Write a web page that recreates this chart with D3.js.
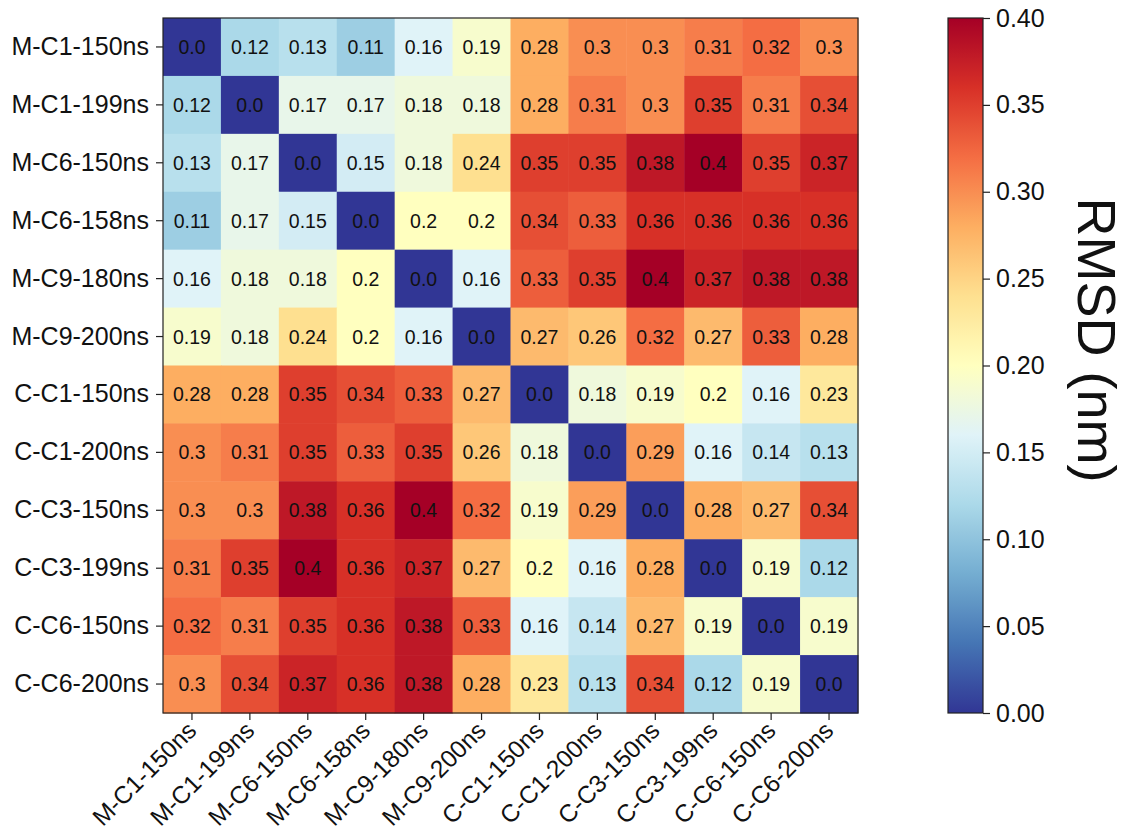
<!DOCTYPE html>
<html>
<head>
<meta charset="utf-8">
<script src="https://cdn.jsdelivr.net/npm/d3@7"></script>
<style>
  html, body { margin: 0; padding: 0; background: #fff; }
  svg text { font-family: "Liberation Sans", Arial, sans-serif; fill: #111; }
</style>
</head>
<body>
<svg id="chart" width="1129" height="832"></svg>
<script>
// Trajectory names (rows and columns of the pairwise RMSD matrix)
const trajectories = [
  "M-C1-150ns", "M-C1-199ns", "M-C6-150ns", "M-C6-158ns", "M-C9-180ns", "M-C9-200ns",
  "C-C1-150ns", "C-C1-200ns", "C-C3-150ns", "C-C3-199ns", "C-C6-150ns", "C-C6-200ns"
];

// Pairwise RMSD (nm), one row per trajectory
const rmsdRow01 = [0.0, 0.12, 0.13, 0.11, 0.16, 0.19, 0.28, 0.3, 0.3, 0.31, 0.32, 0.3];
const rmsdRow02 = [0.12, 0.0, 0.17, 0.17, 0.18, 0.18, 0.28, 0.31, 0.3, 0.35, 0.31, 0.34];
const rmsdRow03 = [0.13, 0.17, 0.0, 0.15, 0.18, 0.24, 0.35, 0.35, 0.38, 0.4, 0.35, 0.37];
const rmsdRow04 = [0.11, 0.17, 0.15, 0.0, 0.2, 0.2, 0.34, 0.33, 0.36, 0.36, 0.36, 0.36];
const rmsdRow05 = [0.16, 0.18, 0.18, 0.2, 0.0, 0.16, 0.33, 0.35, 0.4, 0.37, 0.38, 0.38];
const rmsdRow06 = [0.19, 0.18, 0.24, 0.2, 0.16, 0.0, 0.27, 0.26, 0.32, 0.27, 0.33, 0.28];
const rmsdRow07 = [0.28, 0.28, 0.35, 0.34, 0.33, 0.27, 0.0, 0.18, 0.19, 0.2, 0.16, 0.23];
const rmsdRow08 = [0.3, 0.31, 0.35, 0.33, 0.35, 0.26, 0.18, 0.0, 0.29, 0.16, 0.14, 0.13];
const rmsdRow09 = [0.3, 0.3, 0.38, 0.36, 0.4, 0.32, 0.19, 0.29, 0.0, 0.28, 0.27, 0.34];
const rmsdRow10 = [0.31, 0.35, 0.4, 0.36, 0.37, 0.27, 0.2, 0.16, 0.28, 0.0, 0.19, 0.12];
const rmsdRow11 = [0.32, 0.31, 0.35, 0.36, 0.38, 0.33, 0.16, 0.14, 0.27, 0.19, 0.0, 0.19];
const rmsdRow12 = [0.3, 0.34, 0.37, 0.36, 0.38, 0.28, 0.23, 0.13, 0.34, 0.12, 0.19, 0.0];

const rmsdRows = [rmsdRow01, rmsdRow02, rmsdRow03, rmsdRow04, rmsdRow05, rmsdRow06,
                  rmsdRow07, rmsdRow08, rmsdRow09, rmsdRow10, rmsdRow11, rmsdRow12];

// Colour bar range and ticks
const colorDomain = [0, 0.4];
const colorTicks = [0.0, 0.05, 0.10, 0.15, 0.20, 0.25, 0.30, 0.35, 0.40];
const colorLabel = "RMSD (nm)";

// ---------------------------------------------------------------------------
const svg = d3.select("#chart");

const heat = { left: 163, top: 18, size: 695 };
const bar = { left: 948, top: 18, width: 35, height: 695 };

// Reversed RdYlBu, linear between the 11 ColorBrewer stops
const rdylbu = d3.schemeRdYlBu[11].slice().reverse();
const stopScale = d3.scaleLinear()
  .domain(d3.range(11).map(i => i / 10))
  .range(rdylbu)
  .interpolate(d3.interpolateRgb);
const color = v => stopScale((v - colorDomain[0]) / (colorDomain[1] - colorDomain[0]));

const x = d3.scaleBand().domain(trajectories).range([heat.left, heat.left + heat.size]);
const y = d3.scaleBand().domain(trajectories).range([heat.top, heat.top + heat.size]);

const cells = [];
rmsdRows.forEach((row, i) => row.forEach((v, j) => cells.push({ r: trajectories[i], c: trajectories[j], v })));

const fmt = v => (Number.isInteger(v) ? v.toFixed(1) : String(v));

const g = svg.append("g");
g.selectAll("rect.cell").data(cells).join("rect")
  .attr("class", "cell")
  .attr("x", d => x(d.c))
  .attr("y", d => y(d.r))
  .attr("width", x.bandwidth() + 0.5)
  .attr("height", y.bandwidth() + 0.5)
  .attr("fill", d => color(d.v));

g.selectAll("text.val").data(cells).join("text")
  .attr("class", "val")
  .attr("x", d => x(d.c) + x.bandwidth() / 2)
  .attr("y", d => y(d.r) + y.bandwidth() / 2)
  .attr("text-anchor", "middle")
  .attr("dominant-baseline", "central")
  .attr("font-size", 19.5)
  .text(d => fmt(d.v));

svg.append("rect")
  .attr("x", heat.left).attr("y", heat.top)
  .attr("width", heat.size).attr("height", heat.size)
  .attr("fill", "none").attr("stroke", "#222").attr("stroke-width", 1.2);

// Axes
const xAxis = svg.append("g")
  .attr("transform", `translate(0,${heat.top + heat.size})`)
  .call(d3.axisBottom(x).tickSize(7).tickPadding(4));
xAxis.select(".domain").remove();
xAxis.selectAll(".tick line").attr("stroke", "#222").attr("stroke-width", 1.2);
xAxis.selectAll(".tick text")
  .attr("font-size", 24.5)
  .attr("fill", "#111")
  .attr("text-anchor", "end")
  .attr("x", 0)
  .attr("y", 0)
  .attr("dy", null)
  .attr("transform", "translate(6,19) rotate(-45)");

const yAxis = svg.append("g")
  .attr("transform", `translate(${heat.left},0)`)
  .call(d3.axisLeft(y).tickSize(7).tickPadding(7));
yAxis.select(".domain").remove();
yAxis.selectAll(".tick line").attr("stroke", "#222").attr("stroke-width", 1.2);
yAxis.selectAll(".tick text").attr("font-size", 25).attr("fill", "#111");

// Colour bar
const defs = svg.append("defs");
const grad = defs.append("linearGradient")
  .attr("id", "cbar").attr("x1", 0).attr("y1", 1).attr("x2", 0).attr("y2", 0);
d3.range(0, 1.0001, 0.02).forEach(t => {
  grad.append("stop").attr("offset", t).attr("stop-color", stopScale(t));
});
svg.append("rect")
  .attr("x", bar.left).attr("y", bar.top)
  .attr("width", bar.width).attr("height", bar.height)
  .attr("fill", "url(#cbar)")
  .attr("stroke", "#222").attr("stroke-width", 1.2);

const cScale = d3.scaleLinear().domain(colorDomain).range([bar.top + bar.height, bar.top]);
const cAxis = svg.append("g")
  .attr("transform", `translate(${bar.left + bar.width},0)`)
  .call(d3.axisRight(cScale).tickValues(colorTicks).tickFormat(d3.format(".2f")).tickSize(7).tickPadding(6));
cAxis.select(".domain").remove();
cAxis.selectAll(".tick line").attr("stroke", "#222").attr("stroke-width", 1.2);
cAxis.selectAll(".tick text").attr("font-size", 25).attr("fill", "#111");

svg.append("text")
  .attr("transform", `translate(1078,340) rotate(90)`)
  .attr("text-anchor", "middle")
  .attr("font-size", 54)
  .text(colorLabel);
</script>
</body>
</html>
